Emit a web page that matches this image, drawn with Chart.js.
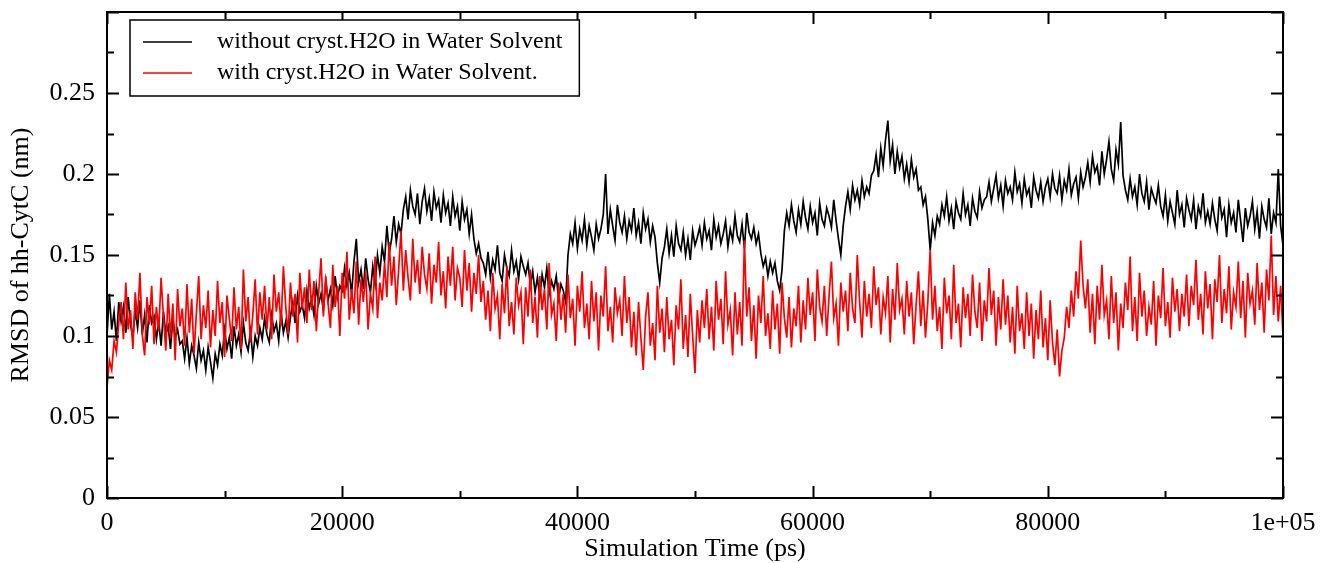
<!DOCTYPE html>
<html>
<head>
<meta charset="utf-8">
<script src="https://cdn.jsdelivr.net/npm/chart.js@4/dist/chart.umd.min.js"></script>
<style>
  html, body { margin: 0; padding: 0; background: #fff; }
  #wrap { width: 1321px; height: 563px; }
</style>
</head>
<body>
<div id="wrap"><canvas id="rmsd_chart" width="1321" height="563"></canvas></div>
<script>
// RMSD of hh-CytC, one sample every 200 ps from 0 to 1e5 ps
var sampleStep = 200;

var seriesLabels = [
    'without cryst.H2O in Water Solvent',
    'with cryst.H2O in Water Solvent.'
];

var rmsdWithout = [
    0.100, 0.126, 0.104, 0.115, 0.097, 0.121, 0.109, 0.118, 0.102, 0.124,
    0.107, 0.099, 0.116, 0.105, 0.122, 0.101, 0.113, 0.096, 0.119, 0.108,
    0.112, 0.098, 0.109, 0.094, 0.115, 0.101, 0.106, 0.092, 0.111, 0.099, 0.104, 0.095,
    0.097, 0.086, 0.099, 0.083, 0.094, 0.088, 0.080, 0.096, 0.085, 0.091, 0.079, 0.093, 0.084, 0.074, 0.089, 0.082,
    0.095, 0.088, 0.104, 0.092, 0.099, 0.086, 0.106, 0.094, 0.101, 0.090, 0.108, 0.096, 0.091, 0.103, 0.087, 0.100, 0.094, 0.105,
    0.098, 0.111, 0.101, 0.096, 0.113, 0.103, 0.108, 0.097, 0.115, 0.102, 0.109, 0.099,
    0.112, 0.121, 0.108, 0.125, 0.115, 0.119, 0.111, 0.128, 0.117, 0.123, 0.113, 0.131, 0.120, 0.126, 0.116, 0.134, 0.122, 0.129, 0.119, 0.137, 0.124, 0.131,
    0.128, 0.142, 0.131, 0.139, 0.126, 0.146, 0.160, 0.133, 0.141, 0.129, 0.148, 0.135, 0.127, 0.143, 0.132, 0.150,
    0.139, 0.155, 0.146, 0.168, 0.151, 0.160, 0.174, 0.158, 0.169, 0.163,
    0.178, 0.186, 0.172, 0.190, 0.180, 0.175, 0.188, 0.169, 0.183, 0.191,
    0.177, 0.185, 0.171, 0.189, 0.179, 0.184, 0.170, 0.187, 0.176, 0.182,
    0.168, 0.186, 0.174, 0.180, 0.165, 0.183, 0.172, 0.178, 0.163, 0.175,
    0.160, 0.151, 0.157, 0.148,
    0.145, 0.138, 0.152, 0.136, 0.147, 0.141, 0.156, 0.139, 0.134, 0.150, 0.142, 0.137, 0.153, 0.140, 0.146, 0.135, 0.149, 0.143, 0.138, 0.145,
    0.131, 0.140, 0.127, 0.136, 0.124, 0.138, 0.130, 0.142, 0.126, 0.134, 0.129, 0.137, 0.123, 0.132, 0.128, 0.121,
    0.150, 0.163, 0.157, 0.170, 0.154, 0.166, 0.159, 0.172, 0.156, 0.168, 0.161, 0.153, 0.169, 0.160,
    0.166, 0.175, 0.200, 0.163, 0.178, 0.168, 0.159, 0.181, 0.170, 0.164,
    0.174, 0.160, 0.171, 0.165, 0.179, 0.162, 0.170, 0.157, 0.176, 0.166, 0.172, 0.158, 0.168, 0.161,
    0.145, 0.133, 0.148,
    0.155, 0.166, 0.151, 0.162, 0.149, 0.168, 0.157, 0.153, 0.164, 0.150, 0.160, 0.147, 0.165, 0.156, 0.161,
    0.167, 0.156, 0.170, 0.160, 0.165, 0.153, 0.172, 0.161, 0.168, 0.157, 0.163, 0.171, 0.155,
    0.166, 0.159, 0.174, 0.162, 0.158, 0.169, 0.154, 0.176, 0.164, 0.160, 0.167, 0.157, 0.163,
    0.151, 0.143, 0.148, 0.137, 0.146, 0.139, 0.145, 0.134, 0.128, 0.141,
    0.165, 0.176, 0.168, 0.181, 0.171, 0.164, 0.178, 0.169, 0.183, 0.173, 0.166, 0.180, 0.170,
    0.176, 0.162, 0.182, 0.172, 0.168, 0.179, 0.174, 0.167, 0.184, 0.171, 0.160, 0.150, 0.168,
    0.180, 0.189, 0.178, 0.193, 0.184, 0.190, 0.181, 0.196, 0.186, 0.192, 0.188, 0.199,
    0.202, 0.212, 0.198, 0.216, 0.205, 0.221, 0.233, 0.208, 0.218, 0.200, 0.214, 0.204, 0.211, 0.197,
    0.206, 0.195, 0.209, 0.198, 0.203, 0.190,
    0.192, 0.181, 0.186, 0.172, 0.153, 0.170, 0.162, 0.174,
    0.169, 0.181, 0.174, 0.186, 0.171, 0.179, 0.166, 0.183, 0.176, 0.172,
    0.188, 0.175, 0.181, 0.168, 0.185, 0.177, 0.173, 0.189, 0.179, 0.184,
    0.186, 0.195, 0.183, 0.191, 0.199, 0.185, 0.193, 0.180, 0.196, 0.188, 0.192, 0.184, 0.201,
    0.189, 0.194, 0.182, 0.197, 0.187, 0.191, 0.179, 0.198, 0.190, 0.185, 0.195, 0.183, 0.192,
    0.197, 0.186, 0.200, 0.191, 0.188, 0.199, 0.184, 0.196, 0.190, 0.203, 0.187, 0.194, 0.198, 0.185, 0.201, 0.192,
    0.198, 0.207, 0.195, 0.211, 0.201, 0.205, 0.193, 0.214, 0.200, 0.209, 0.220, 0.203, 0.196, 0.215, 0.206, 0.232,
    0.199, 0.190, 0.184, 0.197, 0.186, 0.192, 0.181, 0.200, 0.188, 0.183, 0.195, 0.178, 0.191, 0.186, 0.182, 0.193,
    0.180, 0.174, 0.187, 0.171, 0.183, 0.176, 0.169, 0.190, 0.175, 0.181,
    0.167, 0.185, 0.178, 0.172, 0.184, 0.166, 0.180, 0.174, 0.188, 0.170,
    0.177, 0.169, 0.182, 0.172, 0.165, 0.186, 0.173, 0.178, 0.161, 0.181, 0.170, 0.176, 0.164, 0.184, 0.171, 0.158,
    0.179, 0.168, 0.174, 0.183, 0.166, 0.177, 0.160, 0.180, 0.172, 0.167, 0.185, 0.163, 0.176, 0.170, 0.203, 0.168,
    0.156
];

var rmsdWith = [
    0.068, 0.085, 0.079, 0.097, 0.090, 0.108,
    0.121, 0.098, 0.133, 0.104, 0.116, 0.092, 0.127, 0.110, 0.139, 0.101, 0.088, 0.124, 0.107,
    0.131, 0.095, 0.118, 0.103, 0.136, 0.112, 0.091, 0.126, 0.099, 0.120, 0.085, 0.129, 0.106,
    0.117, 0.094, 0.132, 0.102, 0.123, 0.089, 0.114, 0.137, 0.098, 0.119, 0.105, 0.128, 0.093, 0.116, 0.100, 0.134, 0.108,
    0.121, 0.087, 0.125, 0.111, 0.097, 0.130, 0.104, 0.118, 0.092, 0.141, 0.109, 0.124, 0.096, 0.113, 0.135, 0.101, 0.127,
    0.110, 0.131, 0.104, 0.124, 0.098, 0.138, 0.115, 0.127, 0.106, 0.143, 0.118, 0.101, 0.133, 0.112, 0.126, 0.096, 0.139, 0.117,
    0.130, 0.108, 0.141, 0.116, 0.134, 0.103, 0.127, 0.148, 0.112, 0.137, 0.120, 0.105, 0.144, 0.118, 0.131, 0.100, 0.139,
    0.123, 0.152, 0.110, 0.129, 0.114, 0.146, 0.107, 0.135, 0.121, 0.140, 0.104, 0.126, 0.117, 0.149, 0.111, 0.133, 0.122,
    0.145, 0.124, 0.158, 0.131, 0.149, 0.119, 0.141, 0.165, 0.128, 0.153, 0.136, 0.122, 0.160, 0.133, 0.147, 0.126, 0.155, 0.138,
    0.129, 0.151, 0.120, 0.144, 0.133, 0.158, 0.125, 0.140, 0.117, 0.149, 0.131, 0.155,
    0.122, 0.142, 0.136, 0.118, 0.153, 0.128, 0.145, 0.115, 0.139, 0.126, 0.150, 0.121,
    0.134, 0.110, 0.128, 0.103, 0.139, 0.117, 0.125, 0.098, 0.132, 0.114, 0.143, 0.106, 0.121, 0.101, 0.136, 0.119, 0.127,
    0.095, 0.130, 0.112, 0.141, 0.108, 0.124, 0.099, 0.137, 0.116, 0.129, 0.104, 0.145, 0.113, 0.120, 0.097, 0.133, 0.110,
    0.126, 0.102, 0.138, 0.111, 0.123, 0.094, 0.131, 0.115, 0.140, 0.105, 0.120, 0.098, 0.134, 0.109, 0.127,
    0.091, 0.125, 0.112, 0.143, 0.103, 0.118, 0.096, 0.130, 0.114, 0.122, 0.100, 0.137, 0.108, 0.124, 0.093,
    0.115, 0.088, 0.121, 0.099, 0.079, 0.112, 0.127, 0.094, 0.108, 0.085, 0.131, 0.102, 0.117, 0.090, 0.124,
    0.098, 0.110, 0.082, 0.119, 0.104, 0.135, 0.092, 0.113, 0.087, 0.126, 0.100, 0.077, 0.116, 0.096, 0.122,
    0.105, 0.129, 0.098, 0.118, 0.091, 0.134, 0.110, 0.123, 0.095, 0.140, 0.107, 0.116, 0.088, 0.127, 0.101,
    0.121, 0.094, 0.159, 0.112, 0.130, 0.097, 0.119, 0.086, 0.125, 0.108, 0.137, 0.100, 0.114, 0.092,
    0.128, 0.104, 0.120, 0.089, 0.133, 0.111, 0.099, 0.124, 0.093, 0.117, 0.106, 0.131, 0.096,
    0.122, 0.104, 0.136, 0.113, 0.127, 0.097, 0.141, 0.118, 0.109, 0.131, 0.100, 0.125, 0.146, 0.111,
    0.120, 0.094, 0.133, 0.115, 0.128, 0.103, 0.139, 0.117, 0.108, 0.150, 0.121, 0.099, 0.134, 0.112,
    0.126, 0.105, 0.143, 0.119, 0.130, 0.101, 0.124, 0.114, 0.137, 0.096, 0.129, 0.110, 0.145, 0.116,
    0.123, 0.101, 0.134, 0.112, 0.127, 0.095, 0.119, 0.140, 0.106, 0.128, 0.099, 0.121, 0.153, 0.110, 0.131,
    0.103, 0.118, 0.092, 0.136, 0.114, 0.125, 0.098, 0.144, 0.108, 0.120, 0.093, 0.130, 0.111, 0.126, 0.100,
    0.138, 0.115, 0.105, 0.133, 0.097, 0.122, 0.109, 0.142, 0.113, 0.128, 0.094, 0.124, 0.104, 0.135,
    0.107, 0.125, 0.096, 0.118, 0.089, 0.131, 0.103, 0.114, 0.092, 0.127, 0.100, 0.120, 0.086, 0.116, 0.098, 0.128, 0.093, 0.111, 0.085, 0.122,
    0.096, 0.082, 0.104, 0.075, 0.091, 0.099,
    0.118, 0.105, 0.128, 0.112, 0.140, 0.123, 0.159, 0.131,
    0.117, 0.135, 0.102, 0.126, 0.095, 0.131, 0.110, 0.144, 0.113, 0.122, 0.098, 0.137, 0.108, 0.127,
    0.091, 0.120, 0.105, 0.133, 0.116, 0.149, 0.103, 0.124, 0.097, 0.139, 0.112, 0.128, 0.100, 0.118,
    0.107, 0.134, 0.094, 0.125, 0.111, 0.142, 0.106, 0.121, 0.099, 0.136, 0.115, 0.129, 0.103, 0.126,
    0.112, 0.138, 0.106, 0.131, 0.119, 0.147, 0.110, 0.126, 0.101, 0.140, 0.117, 0.132, 0.098, 0.135,
    0.121, 0.150, 0.108, 0.129, 0.114, 0.143, 0.104, 0.127, 0.118, 0.146, 0.111, 0.134, 0.099, 0.139,
    0.120, 0.128, 0.107, 0.145, 0.116, 0.133, 0.102, 0.141, 0.122, 0.162, 0.113, 0.137, 0.109, 0.131, 0.100
];

var xMajorStep = 20000, xMinorStep = 10000;
var yMajorStep = 0.05, yMinorStep = 0.025;

var serifFont = '"Liberation Serif", "DejaVu Serif", serif';

function toPoints(values) {
    return values.map(function (v, i) { return { x: i * sampleStep, y: v }; });
}

// Frame with inward ticks on all four sides (grace style)
var framePlugin = {
    id: 'frame',
    afterDraw: function (chart) {
        var ctx = chart.ctx, a = chart.chartArea;
        var xs = chart.scales.x, ys = chart.scales.y;
        ctx.save();
        ctx.strokeStyle = '#000';
        ctx.lineWidth = 2;
        ctx.strokeRect(a.left, a.top, a.right - a.left, a.bottom - a.top);
        ctx.beginPath();
        var v, p, len;
        for (v = xs.min; v <= xs.max + 1; v += xMinorStep) {
            p = Math.round(xs.getPixelForValue(v)) + 0.5;
            len = (Math.round(v / xMajorStep) * xMajorStep === v) ? 12 : 7;
            ctx.moveTo(p, a.bottom); ctx.lineTo(p, a.bottom - len);
            ctx.moveTo(p, a.top); ctx.lineTo(p, a.top + len);
        }
        for (var k = 0; k * yMinorStep <= ys.max + 1e-9; k++) {
            v = k * yMinorStep;
            p = Math.round(ys.getPixelForValue(v)) + 0.5;
            len = (k % 2 === 0) ? 12 : 7;
            ctx.moveTo(a.left, p); ctx.lineTo(a.left + len, p);
            ctx.moveTo(a.right, p); ctx.lineTo(a.right - len, p);
        }
        ctx.stroke();

        // boxed legend in the upper left
        var sets = chart.data.datasets;
        ctx.font = '24px ' + serifFont;
        var textW = 0;
        sets.forEach(function (ds) { textW = Math.max(textW, ctx.measureText(ds.label).width); });
        var bx = a.left + 23, by = a.top + 8, rowH = 31;
        var bw = 87 + textW + 17, bh = 76;
        ctx.fillStyle = '#fff';
        ctx.fillRect(bx, by, bw, bh);
        ctx.lineWidth = 1.5;
        ctx.strokeRect(bx, by, bw, bh);
        sets.forEach(function (ds, i) {
            var ly = by + 22 + i * rowH;
            ctx.strokeStyle = ds.borderColor;
            ctx.lineWidth = 1.5;
            ctx.beginPath();
            ctx.moveTo(bx + 13, ly); ctx.lineTo(bx + 62, ly);
            ctx.stroke();
            ctx.fillStyle = '#000';
            ctx.textBaseline = 'middle';
            ctx.fillText(ds.label, bx + 87, ly);
        });
        ctx.restore();
    }
};

var ctx = document.getElementById('rmsd_chart').getContext('2d');
var chart = new Chart(ctx, {
    type: 'line',
    data: {
        datasets: [
            {
                label: seriesLabels[0],
                data: toPoints(rmsdWithout),
                borderColor: '#000000',
                borderWidth: 1.7,
                pointRadius: 0,
                tension: 0,
                order: 2
            },
            {
                label: seriesLabels[1],
                data: toPoints(rmsdWith),
                borderColor: '#ff0000',
                borderWidth: 1.7,
                pointRadius: 0,
                tension: 0,
                order: 1
            }
        ]
    },
    options: {
        responsive: false,
        animation: false,
        layout: { padding: { left: 0, right: 38, top: 12, bottom: 0 } },
        plugins: {
            legend: { display: false },
            tooltip: { enabled: false }
        },
        scales: {
            x: {
                type: 'linear',
                min: 0,
                max: 100000,
                grid: { display: false },
                border: { display: false },
                ticks: {
                    stepSize: xMajorStep,
                    maxRotation: 0,
                    color: '#000',
                    padding: 2,
                    font: { family: serifFont, size: 26 },
                    callback: function (v) { return v === 100000 ? '1e+05' : String(v); }
                },
                title: {
                    display: true,
                    text: 'Simulation Time (ps)',
                    color: '#000',
                    padding: { top: 0, bottom: -2 },
                    font: { family: serifFont, size: 26 }
                },
                afterFit: function (scale) { scale.height = 65; }
            },
            y: {
                min: 0,
                max: 0.3,
                grid: { display: false },
                border: { display: false },
                ticks: {
                    stepSize: yMajorStep,
                    color: '#000',
                    padding: 4,
                    font: { family: serifFont, size: 26 },
                    callback: function (v) {
                        if (v > 0.27) return '';
                        return String(parseFloat(v.toFixed(2)));
                    }
                },
                title: {
                    display: true,
                    text: 'RMSD of hh-CytC (nm)',
                    color: '#000',
                    padding: { top: 6, bottom: 0 },
                    font: { family: serifFont, size: 26 }
                },
                afterFit: function (scale) {
                    scale.width = 107;
                    scale.paddingTop = 0;
                    scale.paddingBottom = 0;
                }
            }
        }
    },
    plugins: [framePlugin]
});
</script>
</body>
</html>
